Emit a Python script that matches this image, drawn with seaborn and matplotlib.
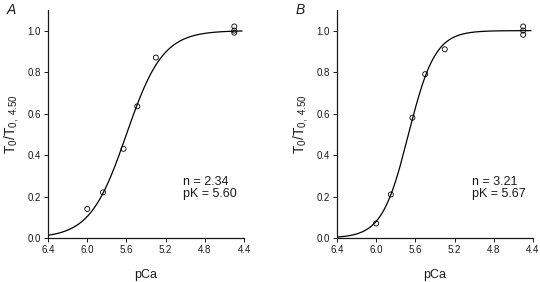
import numpy as np
import pandas as pd
import matplotlib
matplotlib.use("Agg")
import matplotlib.pyplot as plt
import seaborn as sns

# Data
pca_a = [6.00, 5.84, 5.63, 5.49, 5.30, 4.50, 4.50, 4.50]
rel_a = [0.14, 0.22, 0.43, 0.635, 0.87, 1.02, 0.99, 1.00]
pca_b = [6.00, 5.85, 5.63, 5.50, 5.30, 4.50, 4.50, 4.50]
rel_b = [0.07, 0.21, 0.58, 0.79, 0.91, 1.02, 1.00, 0.98]

# Hill fit parameters shown in each panel
hill_n = [2.34, 3.21]
hill_pk = [5.60, 5.67]
panel_names = ["A", "B"]

xticks = [6.4, 6.0, 5.6, 5.2, 4.8, 4.4]
yticks = [0.0, 0.2, 0.4, 0.6, 0.8, 1.0]

sns.set_style("ticks")
plt.rcParams['font.family'] = ['Liberation Sans', 'DejaVu Sans']
plt.rcParams['mathtext.fontset'] = 'custom'
plt.rcParams['mathtext.rm'] = 'Liberation Sans'
plt.rcParams['mathtext.it'] = 'Liberation Sans:italic'

fig = plt.figure(figsize=(5.4, 2.82), dpi=100)
ax_a = fig.add_axes([0.089, 0.156, 0.363, 0.809])
ax_b = fig.add_axes([0.624, 0.156, 0.363, 0.809])

ink = '#1a1a1a'
panels = [(ax_a, pca_a, rel_a), (ax_b, pca_b, rel_b)]
for i, (ax, px, py) in enumerate(panels):
    # fitted Hill curve
    xs = np.linspace(6.4, 4.42, 300)
    fit = pd.DataFrame({'pCa': xs, 'T': 1 / (1 + 10 ** (hill_n[i] * (xs - hill_pk[i])))})
    sns.lineplot(data=fit, x='pCa', y='T', ax=ax, color='black', linewidth=0.9)

    pts = pd.DataFrame({'pCa': px, 'T': py})
    sns.scatterplot(data=pts, x='pCa', y='T', ax=ax, marker='o', s=13,
                    facecolor='none', edgecolor='black', linewidth=0.6, zorder=3)

    ax.set_xlim(6.4, 4.4)
    ax.set_ylim(0, 1.1)
    ax.set_xticks(xticks)
    ax.set_xticklabels([f"{t:.1f}" for t in xticks])
    ax.set_yticks(yticks)
    ax.set_yticklabels([f"{t:.1f}" for t in yticks])
    ax.tick_params(labelsize=7, length=3, width=0.7, pad=2, colors=ink)
    for s in ['left', 'bottom']:
        ax.spines[s].set_linewidth(0.9)
        ax.spines[s].set_color(ink)
    sns.despine(ax=ax)

    ax.set_xlabel('pCa', fontsize=9, labelpad=10, color=ink)
    ax.set_ylabel(r'T$_0$/T$_{0,\ 4.50}$', fontsize=10, labelpad=5, color=ink)

    ax.text(0.689, 0.165, f"n = {hill_n[i]:.2f}\npK = {hill_pk[i]:.2f}",
            transform=ax.transAxes, fontsize=9, linespacing=1.05,
            va='bottom', color=ink)
    ax.text(-0.209, 1.03, panel_names[i], transform=ax.transAxes,
            fontsize=10, style='italic', ha='left', va='top', color=ink)

fig.savefig('out.png', dpi=100)
